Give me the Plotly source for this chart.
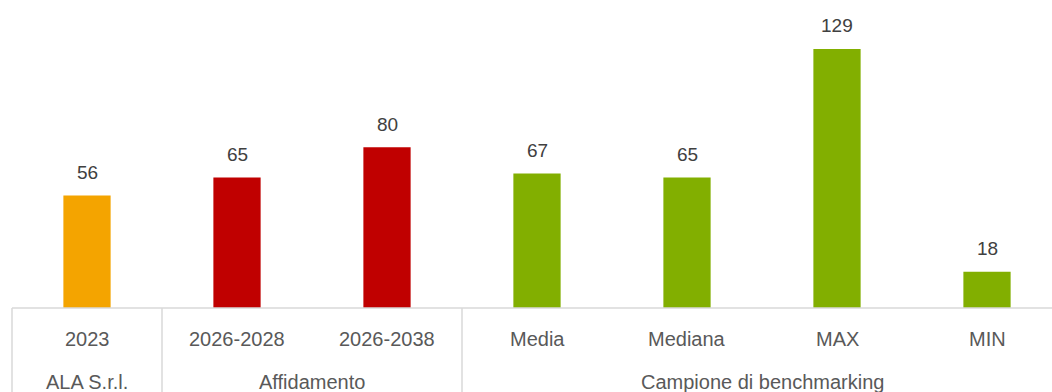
import plotly.graph_objects as go

# Chart data
categories = ["2023", "2026-2028", "2026-2038", "Media", "Mediana", "MAX", "MIN"]
groups = ["ALA S.r.l.", "Affidamento", "Affidamento",
          "Campione di benchmarking", "Campione di benchmarking",
          "Campione di benchmarking", "Campione di benchmarking"]
values = [56, 65, 80, 67, 65, 129, 18]
bar_colors = ["#F4A400", "#C00000", "#C00000", "#82AF00", "#82AF00", "#82AF00", "#82AF00"]

W, H = 1052, 392
ML, MB = 12, 84
X_RANGE = [-0.5, -0.5 + (W - ML) / 150.0]
Y_RANGE = [0, 153.4]
GRID = "#D9D9D9"
LABEL_FONT = dict(family="Liberation Sans, Arial, sans-serif", size=20, color="#595959")
VALUE_FONT = dict(family="Liberation Sans, Arial, sans-serif", size=19, color="#404040")

x_idx = list(range(len(categories)))

fig = go.Figure(go.Bar(
    x=x_idx, y=values, width=0.315,
    marker=dict(color=bar_colors, line=dict(width=0)),
    hoverinfo="skip",
))

annotations = []
# value labels above each bar
for i, v in zip(x_idx, values):
    annotations.append(dict(x=i, y=v, xref="x", yref="y", text=str(v),
                            showarrow=False, yanchor="middle", yshift=23,
                            font=VALUE_FONT))
# first-level category labels
for i, c in zip(x_idx, categories):
    annotations.append(dict(x=i, y=-31 / (H - MB), xref="x", yref="paper", text=c,
                            showarrow=False, yanchor="middle", font=LABEL_FONT))

# group labels, centred under their categories; collect group boundaries
shapes = []
bounds = [-0.5]
start = 0
for i in range(1, len(groups) + 1):
    if i == len(groups) or groups[i] != groups[start]:
        centre = (start + i - 1) / 2
        annotations.append(dict(x=centre, y=-74 / (H - MB), xref="x", yref="paper",
                                text=groups[start], showarrow=False, yanchor="middle",
                                font=LABEL_FONT))
        bounds.append(i - 0.5)
        start = i

# baseline of the category table
shapes.append(dict(type="line", xref="paper", yref="paper", x0=0, x1=1, y0=0, y1=0,
                   line=dict(color=GRID, width=1.5), layer="above"))
# vertical dividers between groups
span = X_RANGE[1] - X_RANGE[0]
for b in bounds:
    px = (b - X_RANGE[0]) / span
    if px <= 1:
        shapes.append(dict(type="line", xref="paper", yref="paper", x0=px, x1=px,
                           y0=0, y1=-MB / (H - MB),
                           line=dict(color=GRID, width=1.5)))

fig.update_layout(
    width=W, height=H,
    margin=dict(l=ML, r=0, t=0, b=MB),
    paper_bgcolor="white", plot_bgcolor="white",
    showlegend=False,
    xaxis=dict(range=X_RANGE, showticklabels=False, showgrid=False,
               zeroline=False, showline=False, ticks=""),
    yaxis=dict(range=Y_RANGE, visible=False, showgrid=False, zeroline=False),
    annotations=annotations,
    shapes=shapes,
)

fig.write_html("out.html")
